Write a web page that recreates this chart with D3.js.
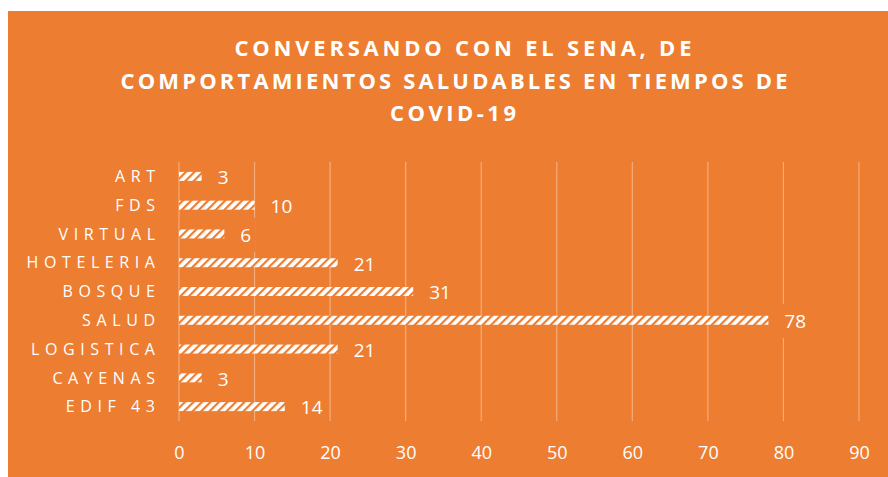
<!DOCTYPE html>
<html><head><meta charset="utf-8">
<script src="https://cdn.jsdelivr.net/npm/d3@7"></script>
<style>
html,body{margin:0;padding:0;background:#fff;}
svg{display:block;}
</style></head>
<body>
<svg id="chart" width="888" height="477"></svg>
<script>
const categories = ["ART","FDS","VIRTUAL","HOTELERIA","BOSQUE","SALUD","LOGISTICA","CAYENAS","EDIF 43"];
const values = [3,10,6,21,31,78,21,3,14];
const xTicks = [0,10,20,30,40,50,60,70,80,90];
const titleLines = ["CONVERSANDO CON EL SENA, DE","COMPORTAMIENTOS SALUDABLES EN TIEMPOS DE","COVID-19"];

const orange = "#ED7D31";
const svg = d3.select("#chart");

svg.append("rect").attr("x",8).attr("y",11).attr("width",880).attr("height",466).attr("fill",orange);

const defs = svg.append("defs");
const pat = defs.append("pattern").attr("id","hatch").attr("patternUnits","userSpaceOnUse")
  .attr("width",6).attr("height",6).attr("patternTransform","rotate(45)");
pat.append("rect").attr("width",6).attr("height",6).attr("fill","#fff");
pat.append("rect").attr("x",0).attr("y",0).attr("width",2.2).attr("height",6).attr("fill",orange);

const x = d3.scaleLinear().domain([0,90]).range([179,859]);
const y = d3.scaleBand().domain(categories).range([162,421]).padding(0);

// title
const title = svg.append("g");
const baselines = [56,88.5,121];
const centers = [463,454,453];
const lens = [457,667,126];
titleLines.forEach((t,i)=>{
  title.append("text").attr("x",centers[i]).attr("y",baselines[i]).attr("text-anchor","middle")
    .attr("fill","#fff").attr("font-family","'Open Sans', sans-serif").attr("font-weight","bold")
    .attr("font-size",22).attr("textLength",lens[i]).attr("lengthAdjust","spacing").text(t);
});

// gridlines
svg.append("g").selectAll("line").data(xTicks).join("line")
  .attr("x1",d=>x(d)).attr("x2",d=>x(d)).attr("y1",162).attr("y2",421)
  .attr("stroke","#F4AC7C").attr("stroke-width",1.2);

// x axis labels
const xAxis = d3.axisBottom(x).tickValues(xTicks).tickSize(0).tickPadding(0);
const xg = svg.append("g").attr("transform","translate(0,446)").call(xAxis);
xg.select(".domain").remove();
xg.selectAll("text").attr("fill","#fff").attr("font-family","'Open Sans', sans-serif").attr("font-size",18).attr("dy","0.71em");

// bars
const bh = 9;
svg.append("g").selectAll("rect").data(values).join("rect")
  .attr("x",x(0)).attr("y",(d,i)=>y(categories[i])+y.bandwidth()/2-bh/2)
  .attr("width",d=>x(d)-x(0)).attr("height",bh).attr("fill","url(#hatch)");

// category labels
const yAxis = d3.axisLeft(y).tickSize(0).tickPadding(0);
const yg = svg.append("g").attr("transform","translate(160.6,0)").call(yAxis);
yg.select(".domain").remove();
yg.selectAll("text").attr("fill","#fff").attr("font-family","'Open Sans', sans-serif").attr("font-size",16)
  .attr("letter-spacing","5.6px").attr("dy","0.36em");

// value labels
const lg = svg.append("g").selectAll("g").data(values).join("g")
  .attr("transform",(d,i)=>`translate(${x(d)+16},${y(categories[i])+y.bandwidth()/2+1})`);
lg.append("text").attr("fill","#fff").attr("font-family","'Open Sans', sans-serif").attr("font-size",19)
  .attr("dy","0.36em").text(d=>d);
lg.each(function(){
  const g = d3.select(this);
  const bb = g.select("text").node().getBBox();
  g.insert("rect","text").attr("x",bb.x-4).attr("y",bb.y-4).attr("width",bb.width+8).attr("height",bb.height+8).attr("fill",orange);
});
</script>
</body></html>
